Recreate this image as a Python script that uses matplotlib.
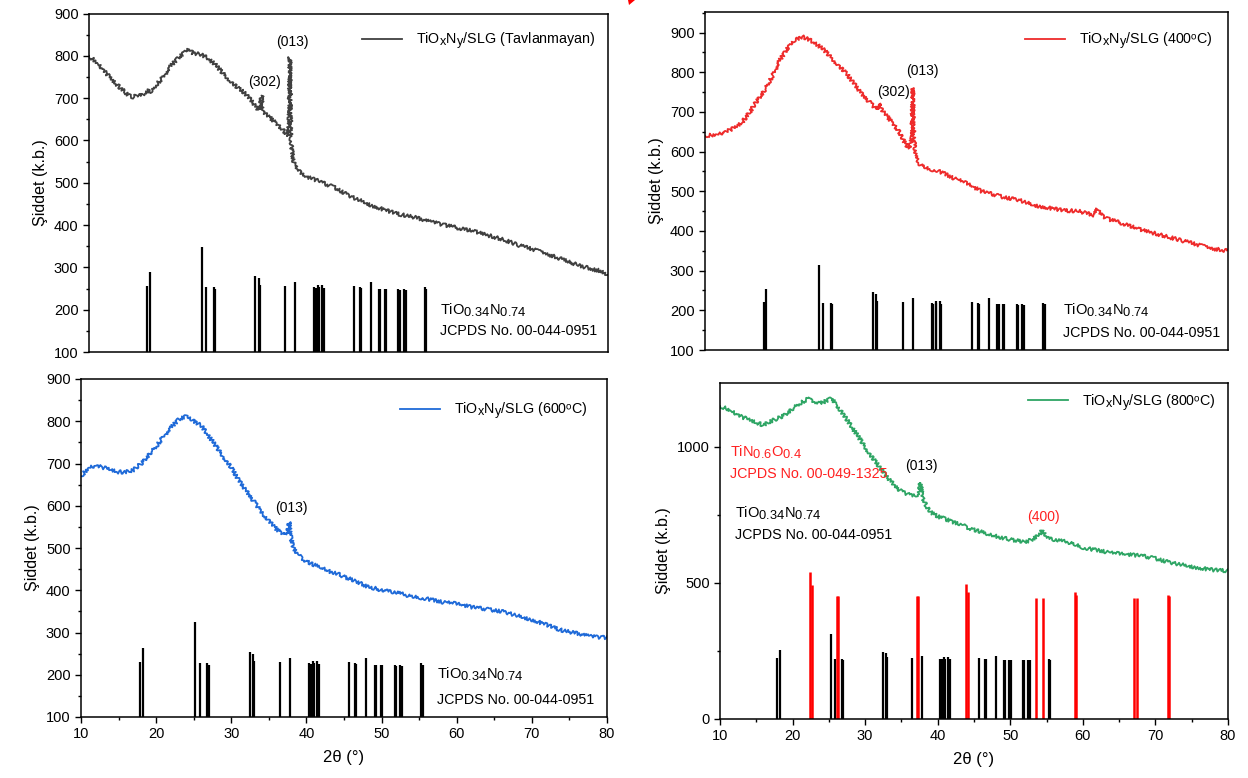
import numpy as np
import matplotlib.pyplot as plt
import matplotlib._mathtext as mathtext_impl
from matplotlib.patches import Polygon

plt.rcParams['font.family'] = ['Liberation Sans', 'DejaVu Sans']
plt.rcParams['mathtext.fontset'] = 'custom'
plt.rcParams['mathtext.rm'] = 'Liberation Sans'
plt.rcParams['mathtext.it'] = 'Liberation Sans'
# subscripts nearly full size, as in the formula labels
mathtext_impl.SHRINK_FACTOR = 0.88

# TiOxNy/SLG as deposited (Tavlanmayan)
tt_raw = [10, 11, 12, 13, 14, 15, 15.5, 16, 16.5, 17, 17.5, 18, 18.5, 19, 20, 21, 22, 23, 23.5,
          24, 25, 26, 27, 28, 29, 30, 31, 32, 32.8, 33.1, 33.3, 33.5, 34, 35, 36, 36.8, 37.0,
          37.1, 37.25, 37.5, 38, 39, 40, 41, 42, 43, 44, 45, 46, 47, 48, 50, 52, 54, 56, 58,
          60, 62, 64, 66, 68, 70, 72, 74, 76, 78, 79, 80]
I_raw = [800, 785, 765, 745, 728, 712, 705, 702, 708, 706, 712, 718, 714, 730, 750, 775, 795, 810, 816,
         806, 804, 795, 780, 760, 742, 725, 712, 692, 672, 680, 706, 668, 660, 645, 628, 612, 640,
         797, 600, 555, 532, 516, 510, 504, 496, 490, 480, 470, 462, 455, 447, 435, 425, 418, 408, 400,
         392, 385, 375, 365, 352, 342, 330, 318, 305, 295, 292, 280]

# TiOxNy/SLG annealed at 400 C
tt_400 = [10, 11, 12, 13, 14, 15, 16, 17, 18, 19, 20, 21, 22, 23, 24, 25, 26, 27, 28, 29, 30,
          31, 32, 33, 33.4, 33.8, 34, 35, 36, 36.5, 37, 37.5, 37.7, 37.8, 37.95, 38.2, 38.5, 39, 40,
          41, 42, 43, 44, 45, 46, 47, 48, 50, 52, 54, 56, 58, 60, 61, 62, 62.5, 63, 64, 66,
          68, 70, 72, 74, 76, 78, 80]
I_400 = [640, 642, 645, 652, 660, 675, 700, 730, 755, 790, 830, 860, 880, 890, 882, 870, 855, 835, 815, 795, 770,
         745, 725, 705, 722, 700, 698, 675, 650, 630, 615, 610, 640, 760, 640, 590, 572, 565, 555,
         553, 545, 535, 528, 520, 510, 500, 495, 485, 478, 465, 458, 452, 450, 445, 440, 455, 440, 430, 418,
         405, 395, 385, 375, 365, 355, 350]

# TiOxNy/SLG annealed at 600 C
tt_600 = [10, 11, 12, 13, 14, 15, 16, 17, 18, 19, 20, 21, 22, 23, 24, 25, 26, 27, 28, 29, 30,
          31, 32, 33, 34, 35, 36, 37, 37.5, 37.7, 37.9, 38.3, 39, 40, 41, 42, 43, 44, 45, 46, 47,
          48, 49, 50, 52, 54, 56, 58, 60, 62, 64, 66, 68, 70, 72, 74, 76, 78, 80]
I_600 = [670, 690, 695, 690, 685, 680, 680, 685, 700, 720, 740, 765, 785, 805, 812, 800, 790, 765, 740, 715, 690,
         660, 635, 610, 585, 565, 545, 532, 540, 562, 525, 500, 482, 468, 460, 455, 445, 440, 432, 425, 418,
         410, 405, 400, 395, 385, 380, 372, 368, 360, 355, 350, 340, 330, 318, 305, 298, 290, 288]

# TiOxNy/SLG annealed at 800 C
tt_800 = [10, 11, 12, 13, 14, 15, 16, 17, 18, 19, 20, 21, 22, 22.5, 23, 24, 25, 25.5, 26, 27, 28,
          29, 30, 31, 32, 33, 34, 35, 36, 37, 37.3, 37.6, 38, 38.5, 39, 40, 41, 42, 43, 44, 45,
          46, 47, 48, 49, 50, 51, 52, 53, 54, 54.5, 55, 56, 57, 58, 59, 60, 62, 64, 66, 68, 70,
          72, 74, 76, 78, 80]
I_800 = [1150, 1140, 1125, 1110, 1100, 1090, 1080, 1095, 1105, 1120, 1140, 1160, 1175, 1180, 1165, 1160, 1175, 1180, 1150, 1120, 1080,
         1040, 1000, 960, 925, 890, 860, 835, 825, 820, 830, 868, 810, 780, 760, 745, 735, 725, 718, 705, 695,
         688, 680, 672, 665, 660, 655, 650, 660, 680, 695, 665, 660, 655, 650, 640, 630, 620, 610, 605, 600, 590,
         575, 565, 555, 548, 545]

# reference card TiO0.34N0.74, JCPDS 00-044-0951 (relative intensity)
card1_pos = [17.84, 18.21, 25.23, 25.83, 26.83, 26.97, 32.43, 32.89, 33.07, 36.47, 37.80,
             40.37, 40.55, 40.87, 40.96, 41.47, 41.65, 45.73, 46.51, 46.65, 47.98, 49.13,
             49.31, 49.86, 50.05, 51.74, 51.93, 52.43, 52.71, 55.28, 55.46]
card1_int = [60, 74, 100, 59, 59, 57, 70, 68, 61, 60, 64, 59, 58, 61, 59, 61, 58, 60,
             59, 58, 64, 57, 57, 57, 57, 57, 56, 57, 56, 59, 57]

# reference card TiN0.6O0.4, JCPDS 00-049-1325 (counts as plotted)
card2_pos = [22.44, 22.68, 26.13, 26.27, 37.20, 37.34, 43.90, 44.14, 53.60, 54.55,
             58.90, 59.10, 67.05, 67.40, 71.73, 71.87]
card2_int = [540, 494, 451, 451, 451, 452, 496, 467, 445, 445, 467, 455, 445, 445, 457, 451]

W, H = 1248, 778
fig = plt.figure(figsize=(W / 100, H / 100), dpi=100)


def px_axes(l, t, r, b):
    return fig.add_axes([l / W, 1 - b / H, (r - l) / W, (b - t) / H])


def style(ax, xlabel=False):
    ax.set_xlim(10, 80)
    ax.tick_params(direction='out', labelsize=10.5, width=1, length=4)
    ax.tick_params(which='minor', direction='out', length=2.5, width=1)
    for s in ax.spines.values():
        s.set_linewidth(1.1)
    ax.set_ylabel('Şiddet (k.b.)', fontsize=11.5, labelpad=4)
    if xlabel:
        ax.set_xticks(np.arange(10, 81, 10))
        ax.set_xticks(np.arange(10, 81, 5), minor=True)
        ax.set_xlabel('2θ (°)', fontsize=12, labelpad=6)
    else:
        ax.set_xticks([])
        ax.set_xticks([], minor=True)


def noisy(line):
    line.set_sketch_params(scale=1.8, length=2.5, randomness=3)


def card(ax, base, a, b, color='k'):
    tops = a + b * np.array(card1_int)
    ax.vlines(card1_pos, base, tops, colors=color, lw=1.6)


def legend(ax, x, y):
    leg = ax.legend(loc='center left', bbox_to_anchor=(x, y), frameon=False, fontsize=10.3,
                    handlelength=2.8, handletextpad=1.0, borderpad=0, borderaxespad=0)
    for h in leg.get_lines():
        h.set_sketch_params(None)


sub1 = r'TiO$_{\mathregular{0.34}}$N$_{\mathregular{0.74}}$'
lab = r'TiO$_\mathregular{x}$N$_\mathregular{y}$/SLG '

# top left: as deposited
ax1 = px_axes(89, 13.5, 608, 352)
l, = ax1.plot(tt_raw, I_raw, color='#404040', lw=1.3, label=lab + '(Tavlanmayan)')
noisy(l)
card(ax1, 100, 115, 2.34)
ax1.set_ylim(100, 900)
ax1.set_yticks(np.arange(100, 901, 100))
ax1.set_yticks(np.arange(100, 901, 50), minor=True)
style(ax1)
legend(ax1, 0.526, 0.919)
ax1.text(33.7, 738, '(302)', ha='center', va='center', fontsize=10)
ax1.text(37.4, 833, '(013)', ha='center', va='center', fontsize=10)
ax1.text(57.3, 199, sub1, fontsize=10.5, va='center')
ax1.text(57.3, 150, 'JCPDS No. 00-044-0951', fontsize=10.3, va='center')

# top right: 400 C
ax2 = px_axes(705, 12, 1228, 350)
l, = ax2.plot(tt_400, I_400, color='#ee2b2b', lw=1.3, label=lab + '(400ᵒC)')
noisy(l)
card(ax2, 100, 82, 2.33)
ax2.set_ylim(100, 952)
ax2.set_yticks(np.arange(100, 901, 100))
ax2.set_yticks(np.arange(100, 951, 50), minor=True)
style(ax2)
legend(ax2, 0.612, 0.914)
ax2.text(35.2, 750, '(302)', ha='center', va='center', fontsize=10)
ax2.text(39.05, 803, '(013)', ha='center', va='center', fontsize=10)
ax2.text(57.9, 201, sub1, fontsize=10.5, va='center')
ax2.text(57.9, 143, 'JCPDS No. 00-044-0951', fontsize=10.3, va='center')

# bottom left: 600 C
ax3 = px_axes(81, 379, 607, 717)
l, = ax3.plot(tt_600, I_600, color='#1f6ad8', lw=1.3, label=lab + '(600ᵒC)')
noisy(l)
card(ax3, 100, 91, 2.33)
ax3.set_ylim(100, 900)
ax3.set_yticks(np.arange(100, 901, 100))
ax3.set_yticks(np.arange(100, 901, 50), minor=True)
style(ax3, xlabel=True)
legend(ax3, 0.606, 0.905)
ax3.text(38.0, 594, '(013)', ha='center', va='center', fontsize=10)
ax3.text(57.4, 200, sub1, fontsize=10.5, va='center')
ax3.text(57.4, 140, 'JCPDS No. 00-044-0951', fontsize=10.3, va='center')

# bottom right: 800 C, with the TiN0.6O0.4 card in red
ax4 = px_axes(720, 383, 1228, 719)
l, = ax4.plot(tt_800, I_800, color='#2ea564', lw=1.3, label=lab + '(800ᵒC)')
noisy(l)
card(ax4, 0, 91, 2.22)
ax4.vlines(card2_pos, 0, card2_int, colors='#ff0000', lw=1.8)
ax4.set_ylim(0, 1235)
ax4.set_yticks([0, 500, 1000])
ax4.set_yticks(np.arange(0, 1235, 250), minor=True)
style(ax4, xlabel=True)
legend(ax4, 0.606, 0.943)
ax4.text(11.4, 982, r'TiN$_{\mathregular{0.6}}$O$_{\mathregular{0.4}}$', color='#ff2020', fontsize=10.5, va='center')
ax4.text(11.4, 901, 'JCPDS No. 00-049-1325', color='#ff2020', fontsize=10.3, va='center')
ax4.text(12.1, 757, sub1, fontsize=10.5, va='center')
ax4.text(12.1, 676, 'JCPDS No. 00-044-0951', fontsize=10.3, va='center')
ax4.text(37.8, 930, '(013)', ha='center', va='center', fontsize=10)
ax4.text(54.5, 743, '(400)', ha='center', va='center', fontsize=10, color='#ff2020')

# small red marker at the top edge
fig.patches.append(Polygon([[628 / W, 1.0], [635 / W, 1.0], [629 / W, 1 - 5 / H]],
                           closed=True, color='#ff0000', lw=0, transform=fig.transFigure))

fig.savefig('out.png', dpi=100)
